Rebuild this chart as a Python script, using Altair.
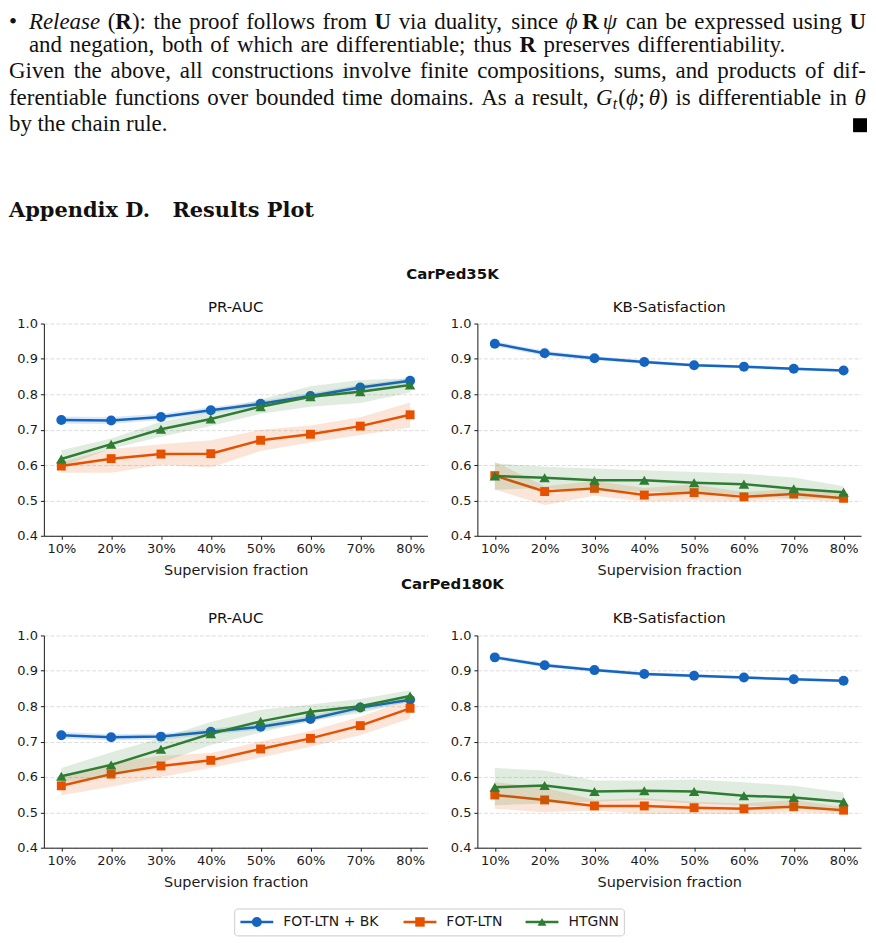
import altair as alt
import pandas as pd

# ---------------- chart values ----------------
fractions = [10, 20, 30, 40, 50, 60, 70, 80]
series = ["FOT-LTN + BK", "FOT-LTN", "HTGNN"]
datasets = ["CarPed35K", "CarPed180K"]
metrics = ["PR-AUC", "KB-Satisfaction"]
y_ticks = [0.4, 0.5, 0.6, 0.7, 0.8, 0.9, 1.0]
x_title = "Supervision fraction"

# CarPed35K / PR-AUC
c35_pr_bk = [0.727, 0.726, 0.736, 0.755, 0.773, 0.795, 0.819, 0.838]
c35_pr_bk_lo = [0.717, 0.716, 0.727, 0.747, 0.765, 0.787, 0.811, 0.831]
c35_pr_bk_hi = [0.737, 0.736, 0.745, 0.763, 0.781, 0.803, 0.827, 0.845]
c35_pr_fot = [0.597, 0.618, 0.631, 0.632, 0.670, 0.687, 0.710, 0.742]
c35_pr_fot_lo = [0.578, 0.578, 0.600, 0.593, 0.640, 0.664, 0.685, 0.706]
c35_pr_fot_hi = [0.609, 0.645, 0.659, 0.670, 0.700, 0.712, 0.735, 0.777]
c35_pr_htg = [0.617, 0.659, 0.701, 0.730, 0.765, 0.793, 0.807, 0.826]
c35_pr_htg_lo = [0.595, 0.646, 0.680, 0.710, 0.745, 0.765, 0.775, 0.805]
c35_pr_htg_hi = [0.642, 0.675, 0.722, 0.750, 0.785, 0.823, 0.840, 0.845]

# CarPed35K / KB-Satisfaction
c35_kb_bk = [0.943, 0.916, 0.902, 0.891, 0.882, 0.878, 0.872, 0.867]
c35_kb_bk_lo = [0.936, 0.909, 0.896, 0.886, 0.878, 0.874, 0.868, 0.863]
c35_kb_bk_hi = [0.950, 0.923, 0.908, 0.896, 0.886, 0.882, 0.876, 0.871]
c35_kb_fot = [0.570, 0.525, 0.534, 0.515, 0.522, 0.510, 0.518, 0.506]
c35_kb_fot_lo = [0.531, 0.487, 0.513, 0.497, 0.500, 0.497, 0.503, 0.495]
c35_kb_fot_hi = [0.609, 0.540, 0.555, 0.535, 0.545, 0.523, 0.533, 0.520]
c35_kb_htg = [0.569, 0.564, 0.557, 0.557, 0.550, 0.546, 0.533, 0.523]
c35_kb_htg_lo = [0.530, 0.535, 0.525, 0.525, 0.520, 0.515, 0.505, 0.505]
c35_kb_htg_hi = [0.605, 0.595, 0.590, 0.585, 0.580, 0.575, 0.565, 0.540]

# CarPed180K / PR-AUC
c180_pr_bk = [0.718, 0.712, 0.714, 0.728, 0.742, 0.764, 0.796, 0.818]
c180_pr_bk_lo = [0.708, 0.703, 0.705, 0.720, 0.733, 0.755, 0.788, 0.811]
c180_pr_bk_hi = [0.728, 0.721, 0.723, 0.736, 0.751, 0.773, 0.804, 0.825]
c180_pr_fot = [0.575, 0.608, 0.631, 0.647, 0.679, 0.709, 0.745, 0.794]
c180_pr_fot_lo = [0.548, 0.572, 0.600, 0.625, 0.655, 0.685, 0.718, 0.765]
c180_pr_fot_hi = [0.600, 0.640, 0.660, 0.668, 0.700, 0.730, 0.770, 0.820]
c180_pr_htg = [0.602, 0.634, 0.678, 0.722, 0.757, 0.784, 0.800, 0.829]
c180_pr_htg_lo = [0.585, 0.600, 0.640, 0.690, 0.725, 0.760, 0.780, 0.815]
c180_pr_htg_hi = [0.625, 0.670, 0.710, 0.755, 0.790, 0.805, 0.820, 0.845]

# CarPed180K / KB-Satisfaction
c180_kb_bk = [0.938, 0.916, 0.902, 0.891, 0.886, 0.881, 0.876, 0.872]
c180_kb_bk_lo = [0.932, 0.910, 0.897, 0.886, 0.882, 0.877, 0.872, 0.868]
c180_kb_bk_hi = [0.944, 0.922, 0.907, 0.896, 0.890, 0.885, 0.880, 0.876]
c180_kb_fot = [0.549, 0.535, 0.518, 0.518, 0.513, 0.510, 0.516, 0.506]
c180_kb_fot_lo = [0.510, 0.500, 0.505, 0.495, 0.495, 0.495, 0.500, 0.495]
c180_kb_fot_hi = [0.585, 0.570, 0.535, 0.540, 0.530, 0.525, 0.535, 0.515]
c180_kb_htg = [0.571, 0.576, 0.559, 0.561, 0.559, 0.547, 0.542, 0.530]
c180_kb_htg_lo = [0.520, 0.525, 0.530, 0.535, 0.525, 0.520, 0.510, 0.510]
c180_kb_htg_hi = [0.625, 0.618, 0.590, 0.590, 0.593, 0.585, 0.575, 0.556]

# ---------------- page text ----------------
def plain(s):
    return [[(w, "r")] for w in s.split()]

text_lines = [
    [[("Release", "i")], [("(", "r"), ("R", "b"), ("):", "r")]]
    + plain("the proof follows from") + [[("U", "b")]]
    + plain("via duality, since")
    + [[("ϕ", "i"), ("R", "b", 0.17), ("ψ", "i", 0.17)]]
    + plain("can be expressed using") + [[("U", "b")]],
    plain("and negation, both of which are differentiable; thus") + [[("R", "b")]]
    + plain("preserves differentiability."),
    plain("Given the above, all constructions involve finite compositions, sums, and products of dif-"),
    plain("ferentiable functions over bounded time domains. As a result,")
    + [[("G", "i"), ("t", "s"), ("(", "r", 0.05), ("ϕ", "i"), (";", "r"), ("θ", "i", 0.17), (")", "r")]]
    + plain("is differentiable in") + [[("θ", "i")]],
    plain("by the chain rule."),
]
bullet = "•"
heading_parts = ["Appendix D.", "Results Plot"]

# ---------------- styling / layout ----------------
colors = ["#1565C0", "#E65100", "#2E7D32"]
marker_shapes = ["circle", "square", "triangle-up"]
marker_sizes = [100, 80, 110]
INK = "#1a1a1a"
SANS = "DejaVu Sans"
BODY_FONT = "Liberation Serif"
BODY_SIZE = 23

W_REG = {" ": .25, "a": .444, "b": .5, "c": .444, "d": .5, "e": .444, "f": .333, "g": .5,
         "h": .5, "i": .278, "j": .278, "k": .5, "l": .278, "m": .778, "n": .5, "o": .5,
         "p": .5, "q": .5, "r": .333, "s": .389, "t": .278, "u": .5, "v": .5, "w": .722,
         "x": .5, "y": .5, "z": .444, "A": .722, "G": .722, "R": .667, "U": .722,
         ",": .25, ".": .25, ":": .278, ";": .278, "(": .333, ")": .333, "-": .333}
W_ITA = dict(W_REG)
W_ITA.update({"R": .611, "a": .5, "ϕ": .55, "ψ": .68, "θ": .5})
W_BLD = dict(W_REG)
W_BLD.update({"R": .722, "U": .722})


def run_width(run):
    text, st = run[0], run[1]
    pre = run[2] if len(run) > 2 else 0
    table = {"r": W_REG, "i": W_ITA, "b": W_BLD, "s": W_ITA}[st]
    fs = BODY_SIZE * (0.7 if st == "s" else 1.0)
    return pre * BODY_SIZE + sum(table.get(ch, 0.5) for ch in text) * fs


# page coordinates of the text block (left, right, baseline);
# the header view origin sits at page (43, 8), aligned with the plot areas
line_left = [28, 28, 8, 8, 8]
line_right = [868, 789, 868, 868, 167]
line_base = [26, 49.5, 76, 102.5, 129]
OX, OY = 43, 8

runs = [dict(t=bullet, x=8 - OX, y=line_base[0] - OY, st="r")]
for words, xl, xr, yb in zip(text_lines, line_left, line_right, line_base):
    widths = [sum(run_width(r) for r in w) for w in words]
    gap = (xr - xl - sum(widths)) / (len(words) - 1)
    x = xl
    for w, ww in zip(words, widths):
        cx = x
        for r in w:
            pre = r[2] if len(r) > 2 else 0
            cx += pre * BODY_SIZE
            dy = 4 if r[1] == "s" else 0
            runs.append(dict(t=r[0], x=cx - OX, y=yb + dy - OY, st=r[1]))
            cx += run_width((r[0], r[1]))
        x += ww + gap
runs.append(dict(t=heading_parts[0], x=8 - OX, y=215 - OY, st="h"))
runs.append(dict(t=heading_parts[1], x=172 - OX, y=215 - OY, st="h"))
hdr_df = pd.DataFrame(runs)


def hdr_text(st, **kw):
    return alt.Chart(hdr_df).transform_filter(alt.datum.st == st).mark_text(
        align="left", baseline="alphabetic", color="#111111", **kw
    ).encode(
        x=alt.X("x:Q", scale=None, axis=None),
        y=alt.Y("y:Q", scale=None, axis=None),
        text="t:N",
    )


qed = alt.Chart(pd.DataFrame({"q": [1]})).mark_square(
    size=196, color="#000000", opacity=1
).encode(x=alt.value(862 - OX), y=alt.value(123 - OY))

header = alt.layer(
    hdr_text("r", font=BODY_FONT, fontSize=BODY_SIZE),
    hdr_text("i", font=BODY_FONT, fontSize=BODY_SIZE, fontStyle="italic"),
    hdr_text("b", font=BODY_FONT, fontSize=BODY_SIZE, fontWeight="bold"),
    hdr_text("s", font=BODY_FONT, fontSize=BODY_SIZE * 0.7, fontStyle="italic"),
    hdr_text("h", font="DejaVu Serif", fontSize=21, fontWeight="bold"),
    qed,
).properties(width=400, height=237)

# ---------------- panels ----------------
xs = alt.Scale(domain=[6.5, 83.5], nice=False, zero=False)
ys = alt.Scale(domain=[0.4, 1.0], nice=False, zero=False)
axis_common = dict(
    domainColor=INK, domainWidth=1, tickColor=INK, tickWidth=1, tickSize=3.5,
    labelFont=SANS, labelFontSize=13, labelColor=INK, labelPadding=3,
    titleFont=SANS, titleFontSize=14.5, titleFontWeight="normal", titleColor=INK,
)
x_axis = alt.Axis(values=fractions, labelExpr="datum.value + '%'", title=x_title,
                  titlePadding=8, grid=False, labelFlush=False, **axis_common)
y_axis = alt.Axis(values=y_ticks, format=".1f", title=None, grid=True, gridDash=[4, 2],
                  gridColor="#d3d3d3", gridWidth=0.8, minExtent=35, maxExtent=35,
                  labelFlush=False, **axis_common)


def panel_df(vals):
    recs = []
    for name, (m, lo, hi) in zip(series, vals):
        for f, a, b, c in zip(fractions, m, lo, hi):
            recs.append({"frac": f, "series": name, "mean": a, "lo": b, "hi": c})
    return pd.DataFrame(recs)


def label_layer(text, x, y, bold=False):
    return alt.Chart(pd.DataFrame({"label": [text]})).mark_text(
        font=SANS, fontSize=15, color="#111111", align="center", baseline="alphabetic",
        fontWeight="bold" if bold else "normal",
    ).encode(text="label:N", x=alt.value(x), y=alt.value(y))


def panel(vals, metric, extra=()):
    df = panel_df(vals)
    X = alt.X("frac:Q", scale=xs, axis=x_axis)
    layers = []
    for name, c, sh, sz in zip(series, colors, marker_shapes, marker_sizes):
        base = alt.Chart(df).transform_filter(alt.datum.series == name)
        layers.append(base.mark_area(color=c, opacity=0.15).encode(
            x=X, y=alt.Y("lo:Q", scale=ys, axis=y_axis), y2="hi:Q"))
        layers.append(base.mark_line(color=c, strokeWidth=2.5).encode(
            x=X, y=alt.Y("mean:Q", scale=ys, axis=y_axis)))
        layers.append(base.mark_point(shape=sh, filled=True, color=c, size=sz, opacity=1).encode(
            x=X, y=alt.Y("mean:Q", scale=ys, axis=y_axis)))
    layers.append(label_layer(metric, 192.5, -12))
    layers.extend(extra)
    return alt.layer(*layers).properties(width=385, height=213)


p11 = panel([(c35_pr_bk, c35_pr_bk_lo, c35_pr_bk_hi),
             (c35_pr_fot, c35_pr_fot_lo, c35_pr_fot_hi),
             (c35_pr_htg, c35_pr_htg_lo, c35_pr_htg_hi)], metrics[0],
            extra=[label_layer(datasets[0], 410, -45, bold=True),
                   label_layer(datasets[1], 410, 266, bold=True)])
p12 = panel([(c35_kb_bk, c35_kb_bk_lo, c35_kb_bk_hi),
             (c35_kb_fot, c35_kb_fot_lo, c35_kb_fot_hi),
             (c35_kb_htg, c35_kb_htg_lo, c35_kb_htg_hi)], metrics[1])
p21 = panel([(c180_pr_bk, c180_pr_bk_lo, c180_pr_bk_hi),
             (c180_pr_fot, c180_pr_fot_lo, c180_pr_fot_hi),
             (c180_pr_htg, c180_pr_htg_lo, c180_pr_htg_hi)], metrics[0])
p22 = panel([(c180_kb_bk, c180_kb_bk_lo, c180_kb_bk_hi),
             (c180_kb_fot, c180_kb_fot_lo, c180_kb_fot_hi),
             (c180_kb_htg, c180_kb_htg_lo, c180_kb_htg_hi)], metrics[1])

row1 = alt.hconcat(p11, p12, spacing=50, bounds="flush")
row2 = alt.hconcat(p21, p22, spacing=50, bounds="flush")

# ---------------- legend ----------------
leg_base = alt.Chart(pd.DataFrame({"series": series})).transform_calculate(
    w="64.7 + 8.25 * length(datum.series)"
).transform_window(
    cum="sum(w)", frame=[None, 0]
).transform_calculate(
    pos="datum.cum - datum.w + 22.7"
)
lx = alt.X("pos:Q", scale=None, axis=None)
lcol = alt.Color("series:N", scale=alt.Scale(domain=series, range=colors), legend=None)
lshape = alt.Shape("series:N", scale=alt.Scale(domain=series, range=marker_shapes), legend=None)
lsize = alt.Size("series:N", scale=alt.Scale(domain=series, range=marker_sizes), legend=None)
leg_line = leg_base.mark_point(shape="M-1,0L1,0", size=1089, strokeWidth=2.5,
                               filled=False, opacity=1).encode(x=lx, color=lcol)
leg_mark = leg_base.mark_point(filled=True, opacity=1).encode(
    x=lx, color=lcol, shape=lshape, size=lsize)
leg_text = leg_base.mark_text(align="left", baseline="middle", dx=26.5, font=SANS,
                              fontSize=14, color=INK).encode(x=lx, text="series:N")
legend_box = alt.layer(leg_line, leg_mark, leg_text).properties(
    width=391, height=27,
    view=alt.ViewBackground(fill="white", stroke="#cccccc", strokeWidth=1, cornerRadius=3),
)
spacer = alt.Chart(pd.DataFrame({"series": series[:1]})).mark_point(opacity=0).properties(
    width=190.3, height=27)
legend_row = alt.hconcat(spacer, legend_box, spacing=0, bounds="flush")

chart = alt.vconcat(header, row1, row2, legend_row, spacing=18).properties(
    padding={"left": 0, "top": 0, "right": 0, "bottom": 0}
).configure_view(stroke="transparent")

chart.save("out.html", embed_options={"renderer": "svg", "actions": False})
